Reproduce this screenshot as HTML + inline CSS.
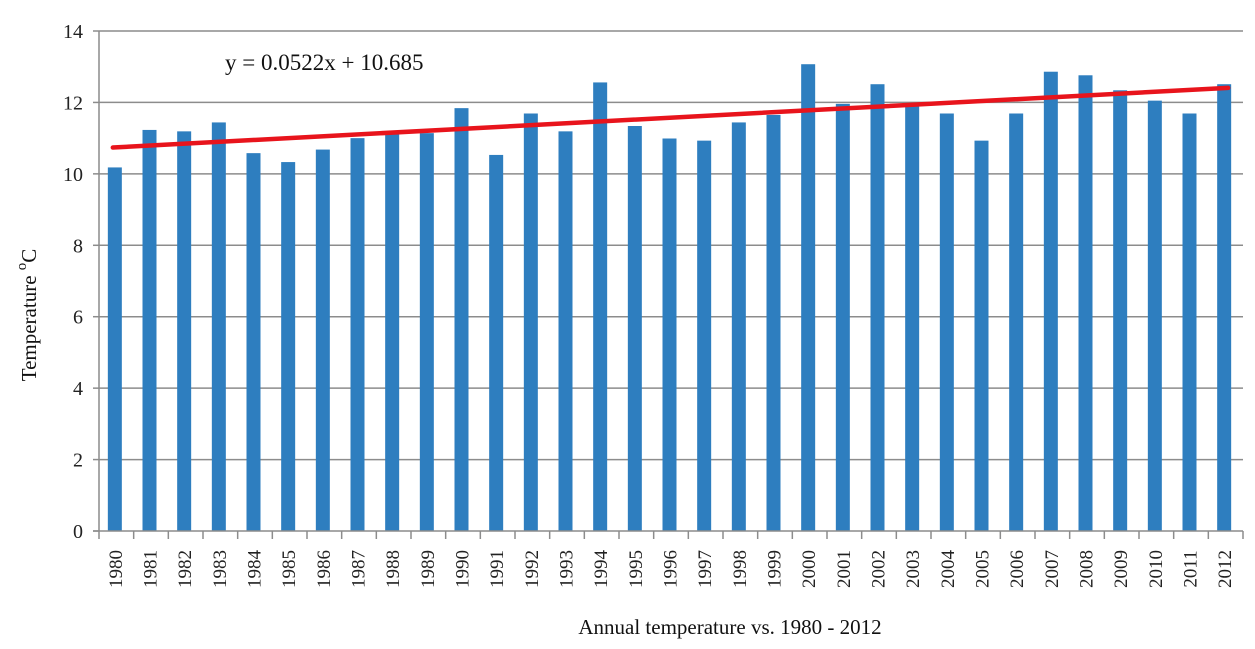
<!DOCTYPE html>
<html><head><meta charset="utf-8"><style>
html,body{margin:0;padding:0;background:#fff;}
svg{display:block;font-family:"Liberation Serif",serif;}
</style></head><body>
<svg id="chart" width="1255" height="649" viewBox="0 0 1255 649" xmlns="http://www.w3.org/2000/svg">
<g id="grid"></g>
<g id="bars"></g>
<g id="axes"></g>
<g id="trend"></g>
<text x="225" y="70" font-size="23" fill="#111">y = 0.0522x + 10.685</text>
<text transform="translate(36,315) rotate(-90)" text-anchor="middle" font-size="21" fill="#111">Temperature <tspan dy="-10" font-size="15">o</tspan><tspan dy="10">C</tspan></text>
<text x="730" y="634" text-anchor="middle" font-size="21" fill="#111">Annual temperature vs. 1980 - 2012</text>
</svg>
<script>
const years = ["1980","1981","1982","1983","1984","1985","1986","1987","1988","1989","1990","1991","1992","1993","1994","1995","1996","1997","1998","1999","2000","2001","2002","2003","2004","2005","2006","2007","2008","2009","2010","2011","2012"];
const temps = [10.18,11.23,11.19,11.44,10.58,10.33,10.68,11.0,11.14,11.14,11.84,10.53,11.69,11.19,12.56,11.34,10.99,10.93,11.44,11.65,13.07,11.96,12.51,11.89,11.69,10.93,11.69,12.86,12.76,12.34,12.05,11.69,12.51];
const yTicks = [0,2,4,6,8,10,12,14];
const trendSlope = 0.0522;
const trendIntercept = 10.685;

const NS = "http://www.w3.org/2000/svg";
const plotLeft = 99, plotRight = 1243, plotTop = 31, plotBottom = 531, yMax = 14;
const step = (plotRight - plotLeft) / years.length;
function xScale(i){ return plotLeft + step * (i + 0.5) - 1.5; }
function yScale(v){ return plotBottom - (v / yMax) * (plotBottom - plotTop); }
function mk(tag, attrs, parent){
  const e = document.createElementNS(NS, tag);
  for (const k in attrs) e.setAttribute(k, attrs[k]);
  parent.appendChild(e);
  return e;
}
const grid = document.getElementById('grid');
const axes = document.getElementById('axes');
const barsG = document.getElementById('bars');
const trendG = document.getElementById('trend');

yTicks.forEach(t => {
  const y = yScale(t);
  if (t > 0) {
    const l = mk('line', {x1:plotLeft, x2:plotRight, y1:y, y2:y, stroke:'#8c8c8c', 'stroke-width':1.5}, grid);
    
    
  }
  const tk = mk('line', {x1:plotLeft-6, x2:plotLeft, y1:y, y2:y, stroke:'#8c8c8c', 'stroke-width':1.5}, axes);
  
  
  const tx = mk('text', {x:plotLeft-16, y:y+7, 'text-anchor':'end', 'font-size':20, fill:'#222'}, axes);
  tx.textContent = t;
  
  
});

temps.forEach((v, i) => {
  const cx = xScale(i);
  const r = mk('rect', {x:cx-7, y:yScale(v), width:14, height:plotBottom - yScale(v), fill:'#2e7ebf'}, barsG);
  
  
  const tk = mk('line', {x1:plotLeft+step*(i+1), x2:plotLeft+step*(i+1), y1:plotBottom, y2:plotBottom+8, stroke:'#8c8c8c', 'stroke-width':1.5}, axes);
  
  
  const tx = mk('text', {transform:'translate(' + (cx+7) + ',569) rotate(-90)', 'text-anchor':'middle', 'font-size':19, fill:'#222'}, axes);
  tx.textContent = years[i];
  
  
});

const ya = mk('line', {x1:plotLeft, x2:plotLeft, y1:plotTop, y2:plotBottom+8, stroke:'#8c8c8c', 'stroke-width':1.5}, axes);


const xa = mk('line', {x1:plotLeft-6, x2:plotRight, y1:plotBottom, y2:plotBottom, stroke:'#8c8c8c', 'stroke-width':1.5}, axes);



const n = years.length;
const tl = mk('line', {x1:xScale(0)-2, y1:yScale(trendSlope*1+trendIntercept), x2:xScale(n-1)+4, y2:yScale(trendSlope*n+trendIntercept), stroke:'#e8141c', 'stroke-width':4.5, 'stroke-linecap':'round'}, trendG);


</script>
</body></html>
